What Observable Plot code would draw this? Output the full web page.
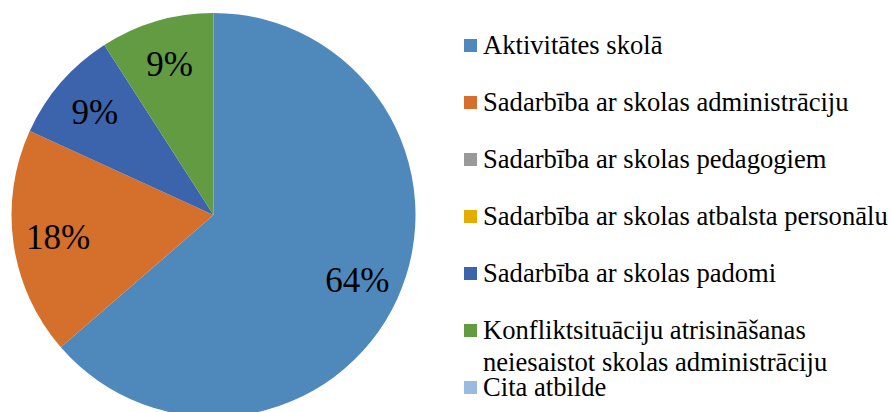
<!DOCTYPE html>
<html>
<head>
<meta charset="utf-8">
<script src="https://cdn.jsdelivr.net/npm/d3@7"></script>
<script src="https://cdn.jsdelivr.net/npm/@observablehq/plot@0.6"></script>
<style>
  html, body { margin: 0; padding: 0; background: #fff; }
  #wrap { position: relative; width: 891px; height: 412px; overflow: hidden; }
  #chart { position: absolute; left: 0; top: 0; }
  #legend { position: absolute; left: 0; top: 0; width: 891px; height: 412px; pointer-events: none;
            font-family: "Liberation Serif", "Times New Roman", serif; font-size: 26.6px; color: #000; }
  .item { position: absolute; left: 464px; display: flex; align-items: flex-start; line-height: 26px; white-space: nowrap; }
  .item .line + .line { margin-top: 6px; }
  .sw { width: 13px; height: 13px; margin-top: 7px; margin-right: 6px; flex: none; }
</style>
</head>
<body>
<div id="wrap"><div id="chart"></div><div id="legend"></div></div>
<script>
// ---- data ----
const categories = [
  "Aktivitātes skolā",
  "Sadarbība ar skolas administrāciju",
  "Sadarbība ar skolas pedagogiem",
  "Sadarbība ar skolas atbalsta personālu",
  "Sadarbība ar skolas padomi",
  "Konfliktsituāciju atrisināšanas neiesaistot skolas administrāciju",
  "Cita atbilde"
];
const legendLines = [
  ["Aktivitātes skolā"],
  ["Sadarbība ar skolas administrāciju"],
  ["Sadarbība ar skolas pedagogiem"],
  ["Sadarbība ar skolas atbalsta personālu"],
  ["Sadarbība ar skolas padomi"],
  ["Konfliktsituāciju atrisināšanas", "neiesaistot skolas administrāciju"],
  ["Cita atbilde"]
];
const counts = [7, 2, 0, 0, 1, 1, 0];
const colors = ["#4F89BC", "#D4702B", "#999999", "#E5AC00", "#3C64AC", "#629B42", "#9ABBDF"];

// ---- layout ----
const W = 891, H = 412;
const pieCx = 213.5, pieCy = 215, pieR = 202;
const labelRadius = 0.78;

const color = Plot.scale({color: {type: "ordinal", domain: categories, range: colors}});
const rows = categories.map((c, i) => ({category: c, value: counts[i]}));
const total = d3.sum(counts);
const arcs = d3.pie().sort(null).value(d => d.value).startAngle(0).endAngle(2 * Math.PI)(rows);
const labels = arcs.filter(a => a.data.value > 0).map(a => {
  const m = (a.startAngle + a.endAngle) / 2;
  return {x: labelRadius * Math.sin(m), y: labelRadius * Math.cos(m), text: Math.round(a.data.value / total * 100) + "%"};
});

const pieMark = (index, scales) => {
  const x = scales.x, y = scales.y;
  const cx = x(0), cy = y(0), r = x(1) - x(0);
  const g = d3.create("svg:g").attr("transform", `translate(${cx},${cy})`);
  g.selectAll("path").data(arcs.filter(a => a.data.value > 0)).join("path")
    .attr("d", d3.arc().innerRadius(0).outerRadius(r))
    .attr("fill", d => color.apply(d.data.category));
  return g.node();
};

const plot = Plot.plot({
  width: W, height: H,
  margin: 0,
  x: {domain: [-pieCx / pieR, (W - pieCx) / pieR], axis: null},
  y: {domain: [(pieCy - H) / pieR, pieCy / pieR], axis: null},
  style: {background: "transparent"},
  marks: [
    pieMark,
    Plot.text(labels, {x: "x", y: "y", text: "text", fontSize: 35, fontFamily: "Liberation Serif", fill: "#000"})
  ]
});
document.getElementById("chart").appendChild(plot);

// ---- legend ----
const legend = d3.select("#legend");
const rowCenter0 = 44.5, rowStep = 57;
categories.forEach((c, i) => {
  const item = legend.append("div").attr("class", "item").style("top", (rowCenter0 + i * rowStep - 13) + "px");
  item.append("div").attr("class", "sw").style("background", color.apply(c));
  const t = item.append("div");
  legendLines[i].forEach(line => t.append("div").attr("class", "line").text(line));
});
</script>
</body>
</html>
